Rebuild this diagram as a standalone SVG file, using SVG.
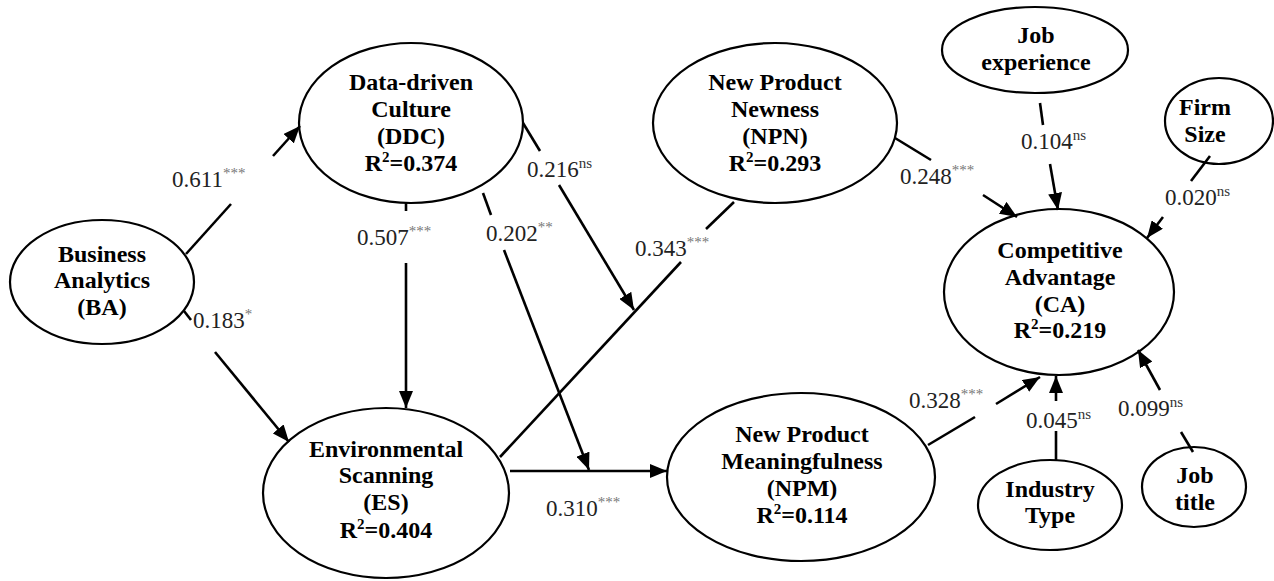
<svg xmlns="http://www.w3.org/2000/svg" width="1274" height="581" viewBox="0 0 1274 581">
<style>
.node ellipse{fill:#fff;stroke:#000;stroke-width:2.2}
.nt{font-family:"Liberation Serif","Times New Roman",serif;font-weight:bold;font-size:24px;fill:#000;text-anchor:middle}
.lbl{font-family:"Liberation Serif","Times New Roman",serif;font-size:23px;fill:#222}
.st{font-size:15px;fill:#777}
.ns{font-size:15px;fill:#333}
.conn line{stroke:#000;stroke-width:2.6;fill:none}
</style>
<defs>
<marker id="ah" markerUnits="userSpaceOnUse" markerWidth="18" markerHeight="14" refX="17" refY="7" orient="auto">
<path d="M0,0 L17,7 L0,14 z" fill="#000"/>
</marker>
</defs>
<rect width="1274" height="581" fill="#fff"/>

<g id="BA" class="node"><ellipse cx="102" cy="282" rx="92" ry="62"/>
<text class="nt" x="102" y="262">Business</text><text class="nt" x="102" y="288">Analytics</text><text class="nt" x="102" y="315">(BA)</text></g>

<g id="DDC" class="node"><ellipse cx="411" cy="123" rx="112" ry="80"/>
<text class="nt" x="411" y="90">Data-driven</text><text class="nt" x="411" y="117">Culture</text><text class="nt" x="411" y="144">(DDC)</text><text class="nt" x="411" y="171">R<tspan font-size="15" dy="-9">2</tspan><tspan dy="9">=0.374</tspan></text></g>

<g id="NPN" class="node"><ellipse cx="775" cy="123" rx="122" ry="80"/>
<text class="nt" x="775" y="90">New Product</text><text class="nt" x="775" y="117">Newness</text><text class="nt" x="775" y="144">(NPN)</text><text class="nt" x="775" y="171">R<tspan font-size="15" dy="-9">2</tspan><tspan dy="9">=0.293</tspan></text></g>

<g id="JE" class="node"><ellipse cx="1035" cy="50" rx="93" ry="43"/>
<text class="nt" x="1036" y="43">Job</text><text class="nt" x="1036" y="70">experience</text></g>

<g id="FS" class="node"><ellipse cx="1219" cy="121" rx="54" ry="43"/>
<text class="nt" x="1205" y="115">Firm</text><text class="nt" x="1205" y="142">Size</text></g>

<g id="CA" class="node"><ellipse cx="1059" cy="292" rx="115" ry="83"/>
<text class="nt" x="1060" y="258">Competitive</text><text class="nt" x="1060" y="285">Advantage</text><text class="nt" x="1060" y="312">(CA)</text><text class="nt" x="1060" y="338">R<tspan font-size="15" dy="-9">2</tspan><tspan dy="9">=0.219</tspan></text></g>

<g id="ES" class="node"><ellipse cx="386" cy="493" rx="123" ry="85"/>
<text class="nt" x="386" y="457">Environmental</text><text class="nt" x="386" y="483">Scanning</text><text class="nt" x="386" y="510">(ES)</text><text class="nt" x="386" y="538">R<tspan font-size="15" dy="-9">2</tspan><tspan dy="9">=0.404</tspan></text></g>

<g id="NPM" class="node"><ellipse cx="801" cy="477" rx="134" ry="84"/>
<text class="nt" x="802" y="442">New Product</text><text class="nt" x="802" y="469">Meaningfulness</text><text class="nt" x="802" y="496">(NPM)</text><text class="nt" x="802" y="523">R<tspan font-size="15" dy="-9">2</tspan><tspan dy="9">=0.114</tspan></text></g>

<g id="IT" class="node"><ellipse cx="1050" cy="505" rx="72" ry="45"/>
<text class="nt" x="1050" y="497">Industry</text><text class="nt" x="1050" y="523">Type</text></g>

<g id="JT" class="node"><ellipse cx="1194" cy="487" rx="52" ry="40"/>
<text class="nt" x="1195" y="483">Job</text><text class="nt" x="1195" y="510">title</text></g>

<g id="connectors" class="conn">
<line x1="186" y1="254" x2="231" y2="204"/><line x1="273" y1="156" x2="300" y2="126" marker-end="url(#ah)"/>
<line x1="406" y1="203" x2="406" y2="211"/><line x1="406" y1="263" x2="406" y2="408" marker-end="url(#ah)"/>
<line x1="184" y1="311" x2="191" y2="320"/><line x1="215" y1="352" x2="289" y2="442" marker-end="url(#ah)"/>
<line x1="483" y1="193" x2="491" y2="215"/><line x1="504" y1="250" x2="589" y2="470" marker-end="url(#ah)"/>
<line x1="523" y1="123" x2="540" y2="151"/><line x1="559" y1="185" x2="634" y2="310" marker-end="url(#ah)"/>
<line x1="500" y1="457" x2="681" y2="262"/><line x1="706" y1="229" x2="734" y2="202"/>
<line x1="510" y1="471" x2="667" y2="471" marker-end="url(#ah)"/>
<line x1="895" y1="138" x2="931" y2="160"/><line x1="983" y1="195" x2="1017" y2="217" marker-end="url(#ah)"/>
<line x1="1040" y1="103" x2="1043" y2="125"/><line x1="1050" y1="164" x2="1058" y2="210" marker-end="url(#ah)"/>
<line x1="1210" y1="156" x2="1191" y2="181"/><line x1="1163" y1="217" x2="1147" y2="238" marker-end="url(#ah)"/>
<line x1="928" y1="445" x2="975" y2="417"/><line x1="996" y1="404" x2="1040" y2="377" marker-end="url(#ah)"/>
<line x1="1056" y1="461" x2="1056" y2="431"/><line x1="1056" y1="401" x2="1056" y2="376" marker-end="url(#ah)"/>
<line x1="1193" y1="452" x2="1181" y2="432"/><line x1="1160" y1="390" x2="1138" y2="350" marker-end="url(#ah)"/>
</g>

<g id="labels">
<text class="lbl" x="172" y="187">0.611<tspan class="st" dy="-9">***</tspan></text>
<text class="lbl" x="357" y="245">0.507<tspan class="st" dy="-9">***</tspan></text>
<text class="lbl" x="527" y="177">0.216<tspan class="ns" dy="-9">ns</tspan></text>
<text class="lbl" x="486" y="241">0.202<tspan class="st" dy="-9">**</tspan></text>
<text class="lbl" x="635" y="256">0.343<tspan class="st" dy="-9">***</tspan></text>
<text class="lbl" x="900" y="184">0.248<tspan class="st" dy="-9">***</tspan></text>
<text class="lbl" x="1021" y="149">0.104<tspan class="ns" dy="-9">ns</tspan></text>
<text class="lbl" x="1165" y="205">0.020<tspan class="ns" dy="-9">ns</tspan></text>
<text class="lbl" x="193" y="328">0.183<tspan class="st" dy="-9">*</tspan></text>
<text class="lbl" x="546" y="516">0.310<tspan class="st" dy="-9">***</tspan></text>
<text class="lbl" x="909" y="408">0.328<tspan class="st" dy="-9">***</tspan></text>
<text class="lbl" x="1026" y="428">0.045<tspan class="ns" dy="-9">ns</tspan></text>
<text class="lbl" x="1118" y="416">0.099<tspan class="ns" dy="-9">ns</tspan></text>
</g>
</svg>
